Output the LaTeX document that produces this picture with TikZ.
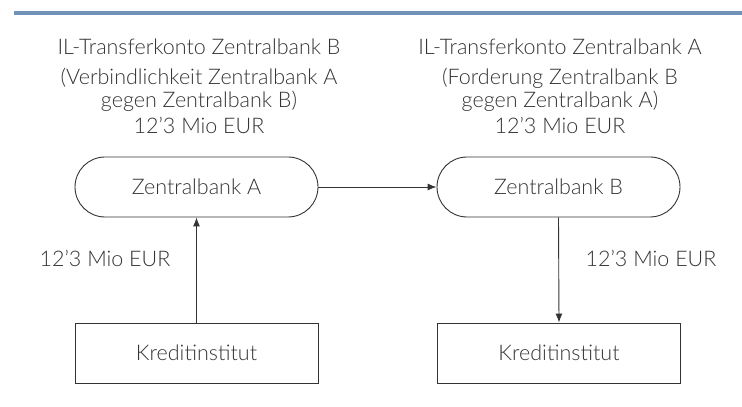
\documentclass[tikz,border=0pt]{standalone}
\usepackage{fontspec}
\setmainfont{Lato}[UprightFont=* Light]
\usetikzlibrary{arrows.meta,shapes.misc}
\definecolor{barblue}{HTML}{7192B6}
\definecolor{ink}{HTML}{333333}
\tikzset{
  every node/.style={text=ink,font=\fontsize{21.5pt}{23pt}\selectfont},
  capsule/.style={draw=ink,line width=0.9pt,rounded rectangle,minimum width=243pt,minimum height=60pt,inner sep=0pt},
  bankbox/.style={draw=ink,line width=0.9pt,rectangle,minimum width=243pt,minimum height=60pt,inner sep=0pt},
  flow/.style={draw=ink,line width=0.9pt,-{Latex[length=9pt,width=7pt]}},
  hdr/.style={align=center,inner sep=0pt}
}
\begin{document}
\begin{tikzpicture}[x=1pt,y=1pt]
\useasboundingbox (0,0) rectangle (742,407);
\fill[barblue] (14,392) rectangle (742,396);
% headers
\node[hdr] (hA1) at (199,360) {IL-Transferkonto Zentralbank B};
\node[hdr] (hA2) at (199,317) {(Verbindlichkeit Zentralbank A\\gegen Zentralbank B)};
\node[hdr] (hA3) at (199,282) {12'3 Mio EUR};
\node[hdr] (hB1) at (560,360) {IL-Transferkonto Zentralbank A};
\node[hdr] (hB2) at (560,317) {(Forderung Zentralbank B\\gegen Zentralbank A)};
\node[hdr] (hB3) at (560,282) {12'3 Mio EUR};
% boxes
\node[capsule] (zbA) at (196.5,220) {Zentralbank A};
\node[capsule] (zbB) at (558.5,220) {Zentralbank B};
\node[bankbox] (kiA) at (196.5,54) {Kreditinstitut};
\node[bankbox] (kiB) at (559,54) {Kreditinstitut};
% connectors
\draw[flow] (zbA.east) -- (zbB.west);
\draw[flow] (kiA.north) -- (zbA.south);
\draw[flow] (zbB.south) -- (kiB.north);
% labels
\node (lA) at (105,149) {12'3 Mio EUR};
\node (lB) at (651,149) {12'3 Mio EUR};
\end{tikzpicture}
\end{document}
